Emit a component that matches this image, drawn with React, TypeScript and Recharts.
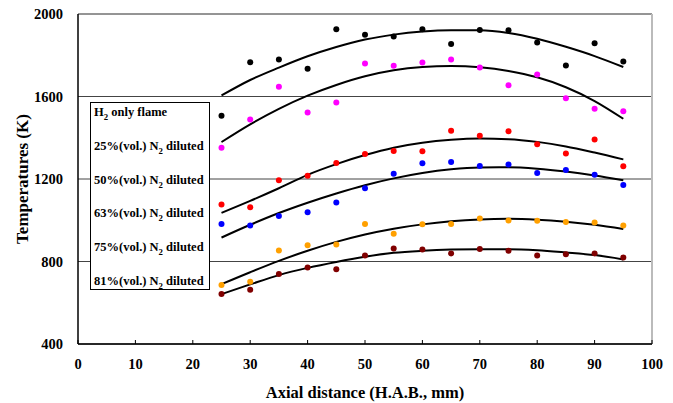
import React from 'react';
import {
  ComposedChart,
  Line,
  Scatter,
  XAxis,
  YAxis,
  CartesianGrid,
  ReferenceLine,
  Legend,
} from 'recharts';

// axial positions (mm)
const positions = [25, 30, 35, 40, 45, 50, 55, 60, 65, 70, 75, 80, 85, 90, 95];

// measured temperatures (K)
const h2Only = [1507, 1766, 1779, 1734, 1926, 1899, 1891, 1926, 1855, 1923, 1921, 1862, 1750, 1858, 1770];
const n2_25 = [1352, 1489, 1647, 1523, 1571, 1760, 1749, 1765, 1779, 1741, 1655, 1707, 1592, 1541, 1529];
const n2_50 = [1076, 1063, 1194, 1216, 1278, 1321, 1336, 1334, 1434, 1410, 1431, 1368, 1324, 1391, 1262];
const n2_63 = [982, 974, 1021, 1039, 1086, 1155, 1226, 1276, 1283, 1263, 1270, 1229, 1244, 1221, 1171];
const n2_75 = [686, 702, 853, 879, 883, 982, 934, 981, 982, 1008, 999, 997, 992, 989, 974];
const n2_81 = [642, 663, 740, 771, 763, 829, 863, 858, 839, 861, 852, 829, 835, 839, 820];

// trend curves, same positions
const h2OnlyTrend = [1605, 1680, 1740, 1795, 1840, 1876, 1900, 1915, 1921, 1921, 1908, 1880, 1841, 1796, 1743];
const n2_25Trend = [1379, 1465, 1540, 1604, 1656, 1698, 1727, 1743, 1748, 1742, 1724, 1693, 1645, 1578, 1492];
const n2_50Trend = [1036, 1094, 1155, 1220, 1272, 1316, 1352, 1376, 1390, 1396, 1393, 1380, 1358, 1328, 1295];
const n2_63Trend = [916, 978, 1035, 1085, 1130, 1170, 1203, 1229, 1247, 1256, 1257, 1250, 1236, 1217, 1194];
const n2_75Trend = [690, 748, 803, 852, 895, 931, 959, 980, 995, 1004, 1007, 1003, 993, 978, 958];
const n2_81Trend = [642, 689, 734, 769, 798, 823, 842, 852, 858, 860, 860, 855, 844, 831, 810];

const seriesNames = [
  'H2 only flame',
  '25%(vol.) N2 diluted',
  '50%(vol.) N2 diluted',
  '63%(vol.) N2 diluted',
  '75%(vol.) N2 diluted',
  '81%(vol.) N2 diluted',
];
const seriesColors = ['#000000', '#ff00ff', '#ff0000', '#0000ff', '#ffa000', '#800000'];

const xTicks = [0, 10, 20, 30, 40, 50, 60, 70, 80, 90, 100];
const yTicks = [400, 800, 1200, 1600, 2000];

const measured = [h2Only, n2_25, n2_50, n2_63, n2_75, n2_81];
const trends = [h2OnlyTrend, n2_25Trend, n2_50Trend, n2_63Trend, n2_75Trend, n2_81Trend];

const toPoints = (values: number[]) => positions.map((x, i) => ({ x, y: values[i] }));

const FONT = '"Liberation Serif", "Times New Roman", serif';

// "N2" / "H2" -> subscript 2
const withSub = (name: string) => {
  const parts = name.split(/([HN])2/);
  const out: React.ReactNode[] = [];
  for (let i = 0; i < parts.length; i++) {
    if (i % 2 === 1) {
      out.push(
        <span key={i}>
          {parts[i]}
          <sub style={{ fontSize: '0.7em', lineHeight: 0 }}>2</sub>
        </span>
      );
    } else if (parts[i]) {
      out.push(<span key={i}>{parts[i]}</span>);
    }
  }
  return out;
};

const XTick = (props: any) => {
  const { x, y, payload } = props;
  // y is axis line + tickSize(6) + tickMargin(2)
  const axisY = y - 8;
  return (
    <g>
      <line x1={x} x2={x} y1={axisY} y2={axisY - 4} stroke="#000" strokeWidth={1} />
      <text x={x} y={y + 17} textAnchor="middle" fontFamily={FONT} fontWeight="bold" fontSize={14.5} fill="#000">
        {payload.value}
      </text>
    </g>
  );
};

const LegendBox = () => (
  <div
    style={{
      border: '1px solid #000',
      background: '#fff',
      padding: '2px 0 1px 3px',
      width: 115,
      fontFamily: FONT,
      fontWeight: 'bold',
      fontSize: 12.5,
      color: '#000',
      boxSizing: 'content-box',
    }}
  >
    {seriesNames.map((name, i) => (
      <div
        key={name}
        style={{ height: 14, lineHeight: '14px', marginBottom: i < seriesNames.length - 1 ? 19.75 : 0, whiteSpace: 'nowrap' }}
      >
        {withSub(name)}
      </div>
    ))}
  </div>
);

export default function App() {
  return (
    <div style={{ position: 'absolute', left: 0, top: 0, width: 673, height: 403, background: '#fff', fontFamily: FONT }}>
      <ComposedChart width={673} height={403} margin={{ top: 14, right: 21, bottom: 0, left: 18 }}>
        <CartesianGrid horizontal vertical={false} stroke="#444" strokeWidth={1} />
        <XAxis
          type="number"
          dataKey="x"
          domain={[0, 100]}
          ticks={xTicks}
          height={59}
          tick={<XTick />}
          tickLine={false}
          axisLine={{ stroke: '#000', strokeWidth: 1.5 }}
          label={{
            value: 'Axial distance (H.A.B., mm)',
            position: 'insideBottom',
            offset: 5,
            style: { fontFamily: FONT, fontWeight: 'bold', fontSize: 16.5, fill: '#000' },
          }}
        />
        <YAxis
          type="number"
          dataKey="y"
          domain={[400, 2000]}
          ticks={yTicks}
          width={60}
          tickLine={false}
          tickMargin={9}
          tick={{ fontFamily: FONT, fontWeight: 'bold', fontSize: 14.5, fill: '#000' }}
          axisLine={{ stroke: '#000', strokeWidth: 1.5 }}
          label={{
            value: 'Temperatures (K)',
            angle: -90,
            position: 'center',
            dx: -26,
            style: { fontFamily: FONT, fontWeight: 'bold', fontSize: 17, fill: '#000' },
          }}
        />
        <ReferenceLine y={2000} stroke="#888" strokeWidth={1} />
        <ReferenceLine x={100} stroke="#bbb" strokeWidth={2} />
        <Legend
          layout="horizontal"
          verticalAlign="middle"
          align="center"
          content={() => <LegendBox />}
          wrapperStyle={{ left: 90, top: 102, width: 119, height: 188 }}
        />
        {trends.map((t, i) => (
          <Line
            key={'trend' + i}
            data={toPoints(t)}
            dataKey="y"
            type="monotone"
            stroke="#000"
            strokeWidth={2}
            dot={false}
            activeDot={false}
            legendType="none"
            isAnimationActive={false}
          />
        ))}
        {measured.map((m, i) => (
          <Scatter
            key={'pts' + i}
            name={seriesNames[i]}
            data={toPoints(m)}
            dataKey="y"
            fill={seriesColors[i]}
            shape={(p: any) => <circle cx={p.cx} cy={p.cy} r={3} fill={seriesColors[i]} />}
            isAnimationActive={false}
          />
        ))}
      </ComposedChart>
    </div>
  );
}
